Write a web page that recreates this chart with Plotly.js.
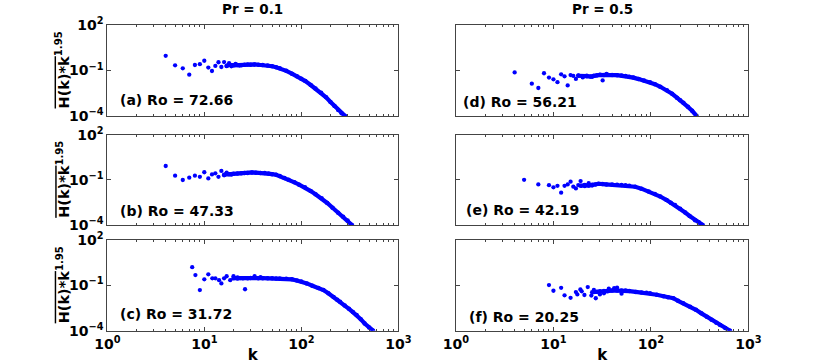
<!DOCTYPE html>
<html>
<head>
<meta charset="utf-8">
<script src="https://cdn.plot.ly/plotly-3.0.1.min.js"></script>
<style>html,body{margin:0;padding:0;background:#fff;}#chart{width:830px;height:364px;}</style>
</head>
<body>
<div id="chart"></div>
<script>
// ---------- data ----------
// (a) Pr = 0.1, Ro = 72.66
const kA_pts = [4,5,6,7,8,9,10,11,12,13,14,15,16,17,18,19,21,23];
const hA_pts = [0.93,0.22,0.14,0.053,0.23,0.26,0.44,0.155,0.093,0.2,0.35,0.17,0.36,0.2,0.3,0.19,0.27,0.21];
const kA_tail = [17,18,20,22,24,26,28,30,33,36,40,45,50,55,60,70,80,90,100,110,125,140,160,180,200,220,240,260,283];
const hA_tail = [0.2,0.24,0.22,0.23,0.22,0.24,0.25,0.24,0.25,0.24,0.23,0.21,0.19,0.165,0.14,0.095,0.062,0.042,0.029,0.02,0.011,0.0065,0.0034,0.0017,0.00085,0.00045,0.00025,0.00015,0.0001];

// (b) Pr = 0.1, Ro = 47.33
const kB_pts = [4,5,6,7,8,9,10,11,12,13,14,15,16,17,19];
const hB_pts = [0.83,0.19,0.098,0.14,0.19,0.16,0.32,0.125,0.23,0.27,0.16,0.39,0.2,0.3,0.22];
const kB_tail = [16,18,20,22,24,26,28,31,34,38,42,46,50,55,60,67,74,85,95,109,125,140,162,185,210,240,270,300,333];
const hB_tail = [0.22,0.24,0.25,0.26,0.27,0.28,0.29,0.31,0.3,0.29,0.28,0.26,0.24,0.22,0.18,0.135,0.1,0.068,0.048,0.032,0.018,0.011,0.0059,0.0029,0.0014,0.00066,0.00035,0.0002,0.0001];

// (c) Pr = 0.1, Ro = 31.72
const kC_pts = [7.5,8.1,9,10,11,12.1,13,14.2,15,16,17,18.5,20,22,23.5,26.3,33,38];
const hC_pts = [1.6,0.48,0.049,0.25,0.54,0.29,0.29,0.22,0.135,0.29,0.4,0.22,0.4,0.33,0.3,0.055,0.4,0.35];
const kC_tail = [20,22,25,28,30,33,36,40,45,50,55,60,70,80,90,100,114,130,150,169,190,215,235,251,280,310,340,372,410,450,500,550];
const hC_tail = [0.3,0.28,0.3,0.3,0.31,0.32,0.3,0.3,0.29,0.29,0.28,0.28,0.27,0.25,0.21,0.18,0.135,0.095,0.068,0.049,0.03,0.017,0.011,0.0083,0.0047,0.0028,0.0017,0.0011,0.00058,0.0003,0.00016,0.0001];

// (d) Pr = 0.5, Ro = 56.21
const kD_pts = [4,6,7,8,9,10,11,12,13,14,15,16,17,18,20,22,25,32,35];
const hD_pts = [0.075,0.0135,0.007,0.066,0.034,0.026,0.017,0.056,0.041,0.0104,0.05,0.044,0.028,0.048,0.035,0.045,0.038,0.022,0.06];
const kD_tail = [18,20,22,24,26,28,30,33,36,40,45,50,55,60,66,75,85,98,110,125,146,165,185,200,216,240,265,295];
const hD_tail = [0.045,0.04,0.042,0.04,0.045,0.048,0.052,0.05,0.052,0.05,0.049,0.046,0.043,0.039,0.034,0.027,0.022,0.017,0.0125,0.0085,0.005,0.0029,0.0016,0.0011,0.00075,0.0004,0.00022,0.0001];

// (e) Pr = 0.5, Ro = 42.19
const kE_pts = [5,7,9,10,11,12,13,14,15,16,17,18,19,21,23,25];
const hE_pts = [0.1,0.05,0.044,0.032,0.04,0.014,0.04,0.05,0.076,0.035,0.027,0.045,0.083,0.038,0.06,0.042];
const kE_tail = [19,21,23,25,27,29,32,35,40,45,50,55,60,69,80,95,110,125,145,160,177,200,225,250,284,310,341];
const hE_tail = [0.04,0.045,0.042,0.048,0.05,0.055,0.052,0.05,0.05,0.048,0.046,0.043,0.04,0.035,0.026,0.017,0.0115,0.0078,0.0045,0.003,0.0021,0.0012,0.00068,0.0004,0.00021,0.00015,0.0001];

// (f) Pr = 0.5, Ro = 20.25
const kF_pts = [9,10,12,13,15,17,17.6,18.9,19.5,20.8,22.5,24.5,26,27.2,30,33,37,42,45,50];
const hF_pts = [0.105,0.044,0.069,0.022,0.015,0.036,0.025,0.054,0.04,0.023,0.077,0.021,0.05,0.014,0.025,0.03,0.06,0.065,0.07,0.028];
const kF_tail = [25,28,30,33,36,40,45,50,55,60,70,80,90,98,115,135,150,170,190,215,253,290,330,375,420,470,513,580,650];
const hF_tail = [0.035,0.038,0.04,0.042,0.04,0.045,0.045,0.046,0.045,0.042,0.037,0.034,0.032,0.03,0.024,0.019,0.0164,0.014,0.0095,0.0065,0.0039,0.0024,0.0014,0.00085,0.00054,0.00034,0.00024,0.00015,0.0001];

const panelLabels = ['(a) Ro = 72.66','(b) Ro = 47.33','(c) Ro = 31.72','(d) Ro = 56.21','(e) Ro = 42.19','(f) Ro = 20.25'];
const columnTitles = ['Pr = 0.1','Pr = 0.5'];
const xTickVals = [1,10,100,1000];
const xTickText = ['10<sup>0</sup>','10<sup>1</sup>','10<sup>2</sup>','10<sup>3</sup>'];
const yTickVals = [100,0.1,0.0001];
const yTickText = ['10<sup>2</sup>','10<sup>−1</sup>','10<sup>−4</sup>'];
const yTitle = '<span style="text-decoration:overline">H(k)*k</span><sup>1.95</sup>';
const xTitle = 'k';

// ---------- layout geometry ----------
const W = 830, H = 364;
const FONT = 'DejaVu Sans, Liberation Sans, sans-serif';
const BLUE = '#0000ff';
const AX = '#444444';
const colX = [[107.3,398.3],[456,748.3]];
const rowY = [[25,116],[134.7,225],[240,330.7]];
const minorVals = [];
[1,10,100].forEach(d => { for (let m = 2; m <= 9; m++) minorVals.push(d*m); });

const panels = [
  {kp:kA_pts,hp:hA_pts,kt:kA_tail,ht:hA_tail,col:0,row:0},
  {kp:kB_pts,hp:hB_pts,kt:kB_tail,ht:hB_tail,col:0,row:1},
  {kp:kC_pts,hp:hC_pts,kt:kC_tail,ht:hC_tail,col:0,row:2},
  {kp:kD_pts,hp:hD_pts,kt:kD_tail,ht:hD_tail,col:1,row:0},
  {kp:kE_pts,hp:hE_pts,kt:kE_tail,ht:hE_tail,col:1,row:1},
  {kp:kF_pts,hp:hF_pts,kt:kF_tail,ht:hF_tail,col:1,row:2}
];
const labelPos = [[118,100],[118,211],[118,314],[461,102],[464,210],[467,317]];

const traces = [];
const layout = {
  width: W, height: H,
  margin: {l:0, r:0, t:0, b:0},
  paper_bgcolor: '#ffffff', plot_bgcolor: '#ffffff',
  showlegend: false,
  font: {family: FONT, size: 12, color: '#000'},
  annotations: []
};

panels.forEach((p, i) => {
  const n = i + 1;
  const xa = n === 1 ? 'x' : 'x' + n;
  const ya = n === 1 ? 'y' : 'y' + n;
  traces.push({x: p.kt, y: p.ht, xaxis: xa, yaxis: ya, type: 'scatter', mode: 'lines+markers',
    line: {color: BLUE, width: 4.2}, marker: {color: BLUE, size: 4.5}, hoverinfo: 'skip'});
  traces.push({x: p.kp, y: p.hp, xaxis: xa, yaxis: ya, type: 'scatter', mode: 'markers',
    marker: {color: BLUE, size: 4.3}, hoverinfo: 'skip'});
  const cx = colX[p.col], ry = rowY[p.row];
  const bottom = p.row === 2, left = p.col === 0;
  const xax = {
    type: 'log', range: [0, 3], domain: [cx[0]/W, cx[1]/W], anchor: ya,
    showline: true, linecolor: AX, linewidth: 1, mirror: 'ticks',
    ticks: 'inside', ticklen: 4, tickcolor: AX, tickwidth: 1,
    tickmode: 'array', tickvals: xTickVals, ticktext: xTickText,
    showticklabels: bottom, showgrid: false, zeroline: false,
    minor: {ticks: 'inside', ticklen: 2, tickcolor: AX, tickmode: 'array', tickvals: minorVals, showgrid: false},
    tickfont: {family: FONT, size: 14, weight: 'bold', color: '#000'},
    automargin: false
  };
  if (bottom) xax.title = {text: xTitle, font: {family: FONT, size: 15, weight: 'bold', color: '#000'}, standoff: 1};
  layout[n === 1 ? 'xaxis' : 'xaxis' + n] = xax;
  layout[n === 1 ? 'yaxis' : 'yaxis' + n] = {
    type: 'log', range: [-4, 2], domain: [1 - ry[1]/H, 1 - ry[0]/H], anchor: xa,
    showline: true, linecolor: AX, linewidth: 1, mirror: 'ticks',
    ticks: 'inside', ticklen: 4, tickcolor: AX, tickwidth: 1,
    tickmode: 'array', tickvals: yTickVals, ticktext: yTickText,
    showticklabels: left, showgrid: false, zeroline: false,
    tickfont: {family: FONT, size: 14, weight: 'bold', color: '#000'},
    automargin: false
  };
  if (left) {
    layout.annotations.push({xref: 'paper', yref: 'paper', x: 63/W, y: 1 - (ry[0] + ry[1]) / 2 / H,
      xanchor: 'center', yanchor: 'middle', textangle: -90, showarrow: false, text: yTitle,
      font: {family: FONT, size: 14.5, weight: 'bold', color: '#000'}});
  }
  layout.annotations.push({xref: 'paper', yref: 'paper', x: labelPos[i][0]/W, y: 1 - labelPos[i][1]/H,
    xanchor: 'left', yanchor: 'middle', showarrow: false, text: panelLabels[i],
    font: {family: FONT, size: 14, weight: 'bold', color: '#000'}});
});

columnTitles.forEach((t, c) => {
  layout.annotations.push({xref: 'paper', yref: 'paper', x: (colX[c][0] + colX[c][1]) / 2 / W, y: 1 - 9/H,
    xanchor: 'center', yanchor: 'middle', showarrow: false, text: t,
    font: {family: FONT, size: 13.5, weight: 'bold', color: '#000'}});
});

Plotly.newPlot('chart', traces, layout, {staticPlot: true, displayModeBar: false});
</script>
</body>
</html>
